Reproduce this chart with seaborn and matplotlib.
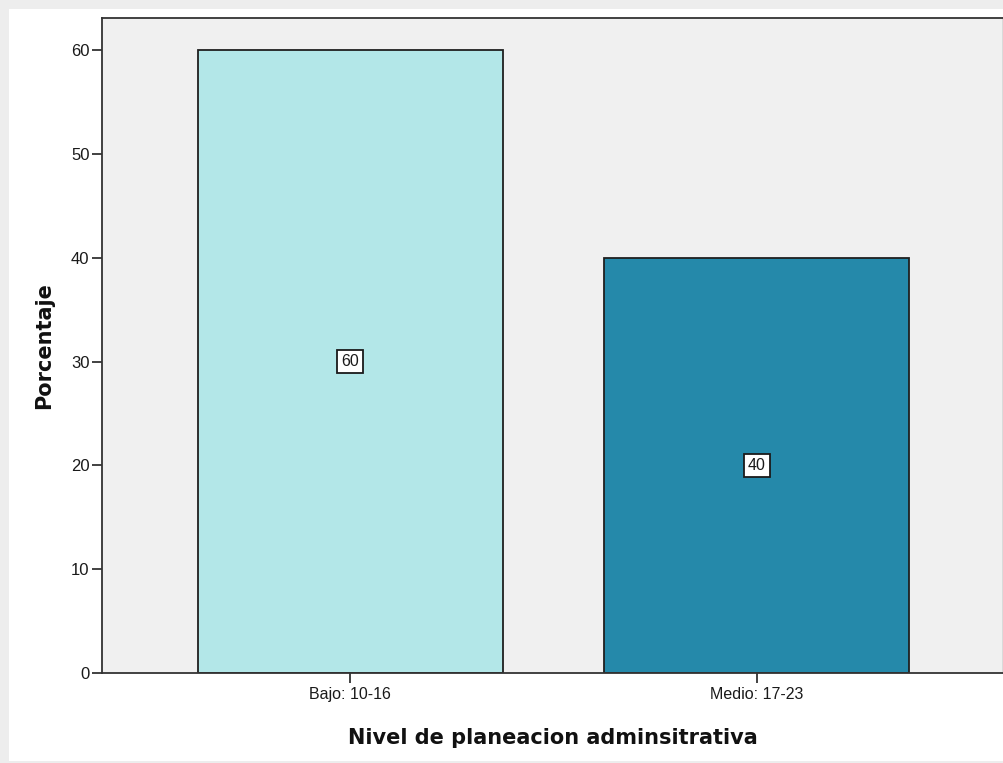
import matplotlib
matplotlib.use("Agg")
import matplotlib.pyplot as plt
import seaborn as sns
import pandas as pd

# Distribution of administrative planning levels (percent)
categories = ["Bajo: 10-16", "Medio: 17-23"]
percentages = [60, 40]
bar_colors = ["#b3e7e8", "#2589aa"]
y_ticks = [0, 10, 20, 30, 40, 50, 60]

df = pd.DataFrame({"nivel": categories, "porcentaje": percentages})

sns.set_style("white")
plt.rcParams["font.family"] = ["Liberation Sans", "DejaVu Sans"]

W, H = 1004, 763
fig = plt.figure(figsize=(W / 100, H / 100), dpi=100, facecolor="#ededed")

# white page area inside a thin grey frame
page = plt.Rectangle((9 / W, 0.002), 1 - 9 / W, 1 - 9 / H - 0.002,
                     transform=fig.transFigure, facecolor="white",
                     edgecolor="none", zorder=-5)
fig.patches.append(page)

ax = fig.add_axes([102 / W, 1 - 673 / H, (1003 - 102) / W, (673 - 18) / H])
ax.set_zorder(2)
ax.set_facecolor("#f0f0f0")

sns.barplot(data=df, x="nivel", y="porcentaje", hue="nivel",
            palette=bar_colors, width=0.75, edgecolor="#1f1f1f",
            linewidth=1.3, saturation=1, legend=False, ax=ax)

ax.set_xlim(-0.61, 1.605)
ax.set_ylim(0, 63.1)
ax.set_yticks(y_ticks)
ax.set_yticklabels([str(t) for t in y_ticks], fontsize=12, color="#1a1a1a")
ax.tick_params(axis="x", labelsize=11.5, colors="#1a1a1a")
ax.tick_params(axis="both", direction="out", length=7, width=1.3,
               color="#333333", left=True, bottom=True)
ax.tick_params(axis="y", pad=2)
ax.tick_params(axis="x", pad=3)

for side in ["left", "bottom", "top", "right"]:
    ax.spines[side].set_color("#333333")
    ax.spines[side].set_linewidth(1.3)
ax.spines["right"].set_color("#d8d8d8")

ax.set_xlabel("Nivel de planeacion adminsitrativa", fontsize=15,
              fontweight="bold", family="DejaVu Sans", labelpad=19,
              color="#111111")
ax.set_ylabel("Porcentaje", fontsize=15, fontweight="bold",
              family="DejaVu Sans", labelpad=12, color="#111111")

# value boxes in the middle of each bar
for i, v in enumerate(percentages):
    ax.text(i, v / 2, str(v), ha="center", va="center", fontsize=11.5,
            color="#1a1a1a",
            bbox=dict(boxstyle="square,pad=0.25", facecolor="white",
                      edgecolor="#1a1a1a", linewidth=1.3))

fig.savefig("out.png", dpi=100, facecolor=fig.get_facecolor())
